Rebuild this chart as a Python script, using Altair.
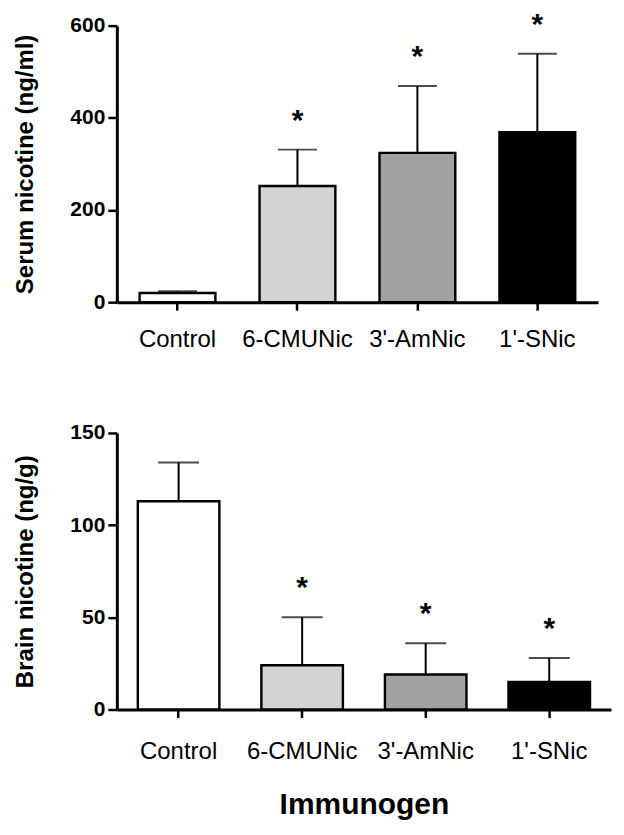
import altair as alt
import pandas as pd

categories = ["Control", "6-CMUNic", "3'-AmNic", "1'-SNic"]
fills = ["#ffffff", "#d3d3d3", "#a2a2a5", "#000000"]
serum_mean = [20, 252, 324, 369]
serum_err = [4, 79, 145, 170]
brain_mean = [113, 24, 19, 15]
brain_err = [21, 26, 17, 13]
sig = ["", "*", "*", "*"]

FONT = "Liberation Sans"


def panel(mean, err, ymax, yvals, ytitle, width, pad_inner, pad_outer, xtitle, label_pad, cap):
    df = pd.DataFrame({
        "cat": categories,
        "mean": mean,
        "top": [m + e for m, e in zip(mean, err)],
        "sig": sig,
    })
    x = alt.X("cat:N", sort=categories,
              scale=alt.Scale(paddingInner=pad_inner, paddingOuter=pad_outer),
              axis=alt.Axis(labelAngle=0, labelFontSize=24, labelFont=FONT,
                            labelPadding=label_pad, tickSize=8, tickWidth=2.5,
                            title=xtitle, titleFontSize=30, titleFont=FONT,
                            titleFontWeight="bold", titlePadding=26))
    yscale = alt.Scale(domain=[0, ymax], nice=False)
    base = alt.Chart(df)
    bars = base.mark_bar(stroke="black", strokeWidth=2.4).encode(
        x=x,
        y=alt.Y("mean:Q", scale=yscale,
                axis=alt.Axis(values=yvals, title=ytitle, grid=False,
                              labelFontSize=21, labelFont=FONT, labelFontWeight="bold",
                              labelPadding=3, tickSize=9, tickWidth=2.5,
                              titleFontSize=24, titleFont=FONT, titleFontWeight="bold",
                              titlePadding=32)),
        fill=alt.Fill("cat:N", scale=alt.Scale(domain=categories, range=fills), legend=None),
    )
    rule = base.mark_rule(color="black", strokeWidth=2).encode(
        x=alt.X("cat:N", sort=categories), y="mean:Q", y2="top:Q")
    caps = base.mark_tick(color="black", thickness=2, size=cap, orient="horizontal").encode(
        x=alt.X("cat:N", sort=categories), y="top:Q")
    stars = base.mark_text(text="*", fontSize=30, font=FONT, fontWeight="bold",
                           baseline="alphabetic", dy=-20, color="black").encode(
        x=alt.X("cat:N", sort=categories), y="top:Q", text="sig:N")
    return alt.layer(bars, rule, caps, stars).properties(width=width, height=277)


top = panel(serum_mean, serum_err, 600, [0, 200, 400, 600], "Serum nicotine (ng/ml)",
            482, 0.368, 0.19, None, 17, 39)
bottom = panel(brain_mean, brain_err, 150, [0, 50, 100, 150], "Brain nicotine (ng/g)",
               495, 0.34, 0.17, "Immunogen", 22, 41)

chart = alt.vconcat(top, bottom, spacing=67).properties(
    padding={"left": 5, "top": 1, "right": 5, "bottom": 2},
    background="white",
).configure_view(stroke=None).configure_axis(
    domainColor="black", domainWidth=3, tickColor="black",
    labelColor="black", titleColor="black"
)

chart.save("out.html", embed_options={"renderer": "svg", "actions": False})
